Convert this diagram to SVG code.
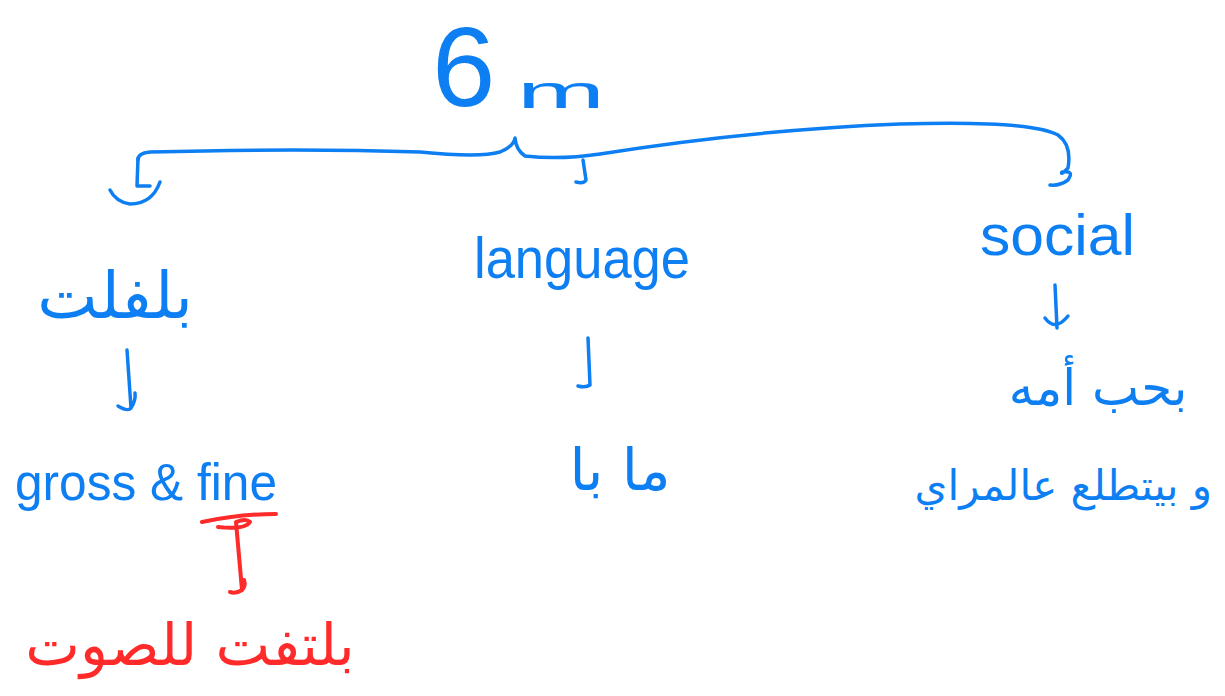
<svg xmlns="http://www.w3.org/2000/svg" width="1225" height="696" viewBox="0 0 1225 696">
<style>
.b{fill:#0d7ff2}
.r{fill:#ff2a2a}
.en{font-family:"Liberation Sans",Arial,sans-serif}
.ar{font-family:"DejaVu Sans","Noto Sans",sans-serif}
.cb{fill:none;stroke:#0d7ff2;stroke-width:3.5;stroke-linecap:round;stroke-linejoin:round}
.cr{fill:none;stroke:#ff2a2a;stroke-width:4;stroke-linecap:round;stroke-linejoin:round}
</style>
<rect width="1225" height="696" fill="#ffffff"/>
<g id="connectors">
<path class="cb" d="M138,160 Q138,153 150,152 Q300,148 420,152 Q480,158 500,152 Q514,146 515,138 Q516,150 525,156 Q560,160 600,154 Q750,130 900,124 Q1030,120 1058,135 Q1072,145 1068,168 Q1060,176 1062,172 Q1075,170 1068,180 Q1060,186 1050,185"/>
<path class="cb" d="M138,158 L137,186 L150,186"/>
<path class="cb" d="M160,182 Q152,204 130,204 Q116,202 110,190"/>
<path class="cb" d="M583,160 L586,180 Q584,184 576,182"/>
<path class="cb" d="M127,350 L131,408 Q128,412 118,406 M131,408 Q136,400 135,393"/>
<path class="cb" d="M588,338 L590,385 Q586,388 578,386"/>
<path class="cb" d="M1055,285 L1057,328 M1045,318 Q1055,332 1068,316"/>
<path class="cr" d="M202,522 Q240,514 276,514" stroke-width="7"/>
<path class="cr" d="M218,527 Q245,530 250,522 Q246,518 236,522 L242,590 Q236,594 230,592 M242,590 Q246,586 244,580"/>
</g>
<g id="title">
<text class="b en" x="432" y="106" font-size="114">6</text>
<text class="b en" x="517" y="108" font-size="46" textLength="88" lengthAdjust="spacingAndGlyphs">m</text>
</g>
<g id="node-motor">
<text class="b ar" x="115" y="318" font-size="64" text-anchor="middle">بلفلت</text>
</g>
<g id="node-gross-fine">
<text class="b en" x="15" y="500" font-size="52" textLength="262" lengthAdjust="spacingAndGlyphs">gross &amp; fine</text>
</g>
<g id="node-sound">
<text class="r ar" x="190" y="665" font-size="58" text-anchor="middle">بلتفت للصوت</text>
</g>
<g id="node-language">
<text class="b en" x="474" y="278" font-size="58" textLength="216" lengthAdjust="spacingAndGlyphs">language</text>
</g>
<g id="node-mama">
<text class="b ar" x="620" y="490" font-size="58" text-anchor="middle">ما  با</text>
</g>
<g id="node-social">
<text class="b en" x="980" y="255" font-size="58" textLength="155" lengthAdjust="spacingAndGlyphs">social</text>
</g>
<g id="node-loves">
<text class="b ar" x="1098" y="405" font-size="50" text-anchor="middle">بحب أمه</text>
</g>
<g id="node-mirror">
<text class="b ar" x="1212" y="500" font-size="42" text-anchor="end">و بيتطلع عالمراي</text>
</g>
</svg>
